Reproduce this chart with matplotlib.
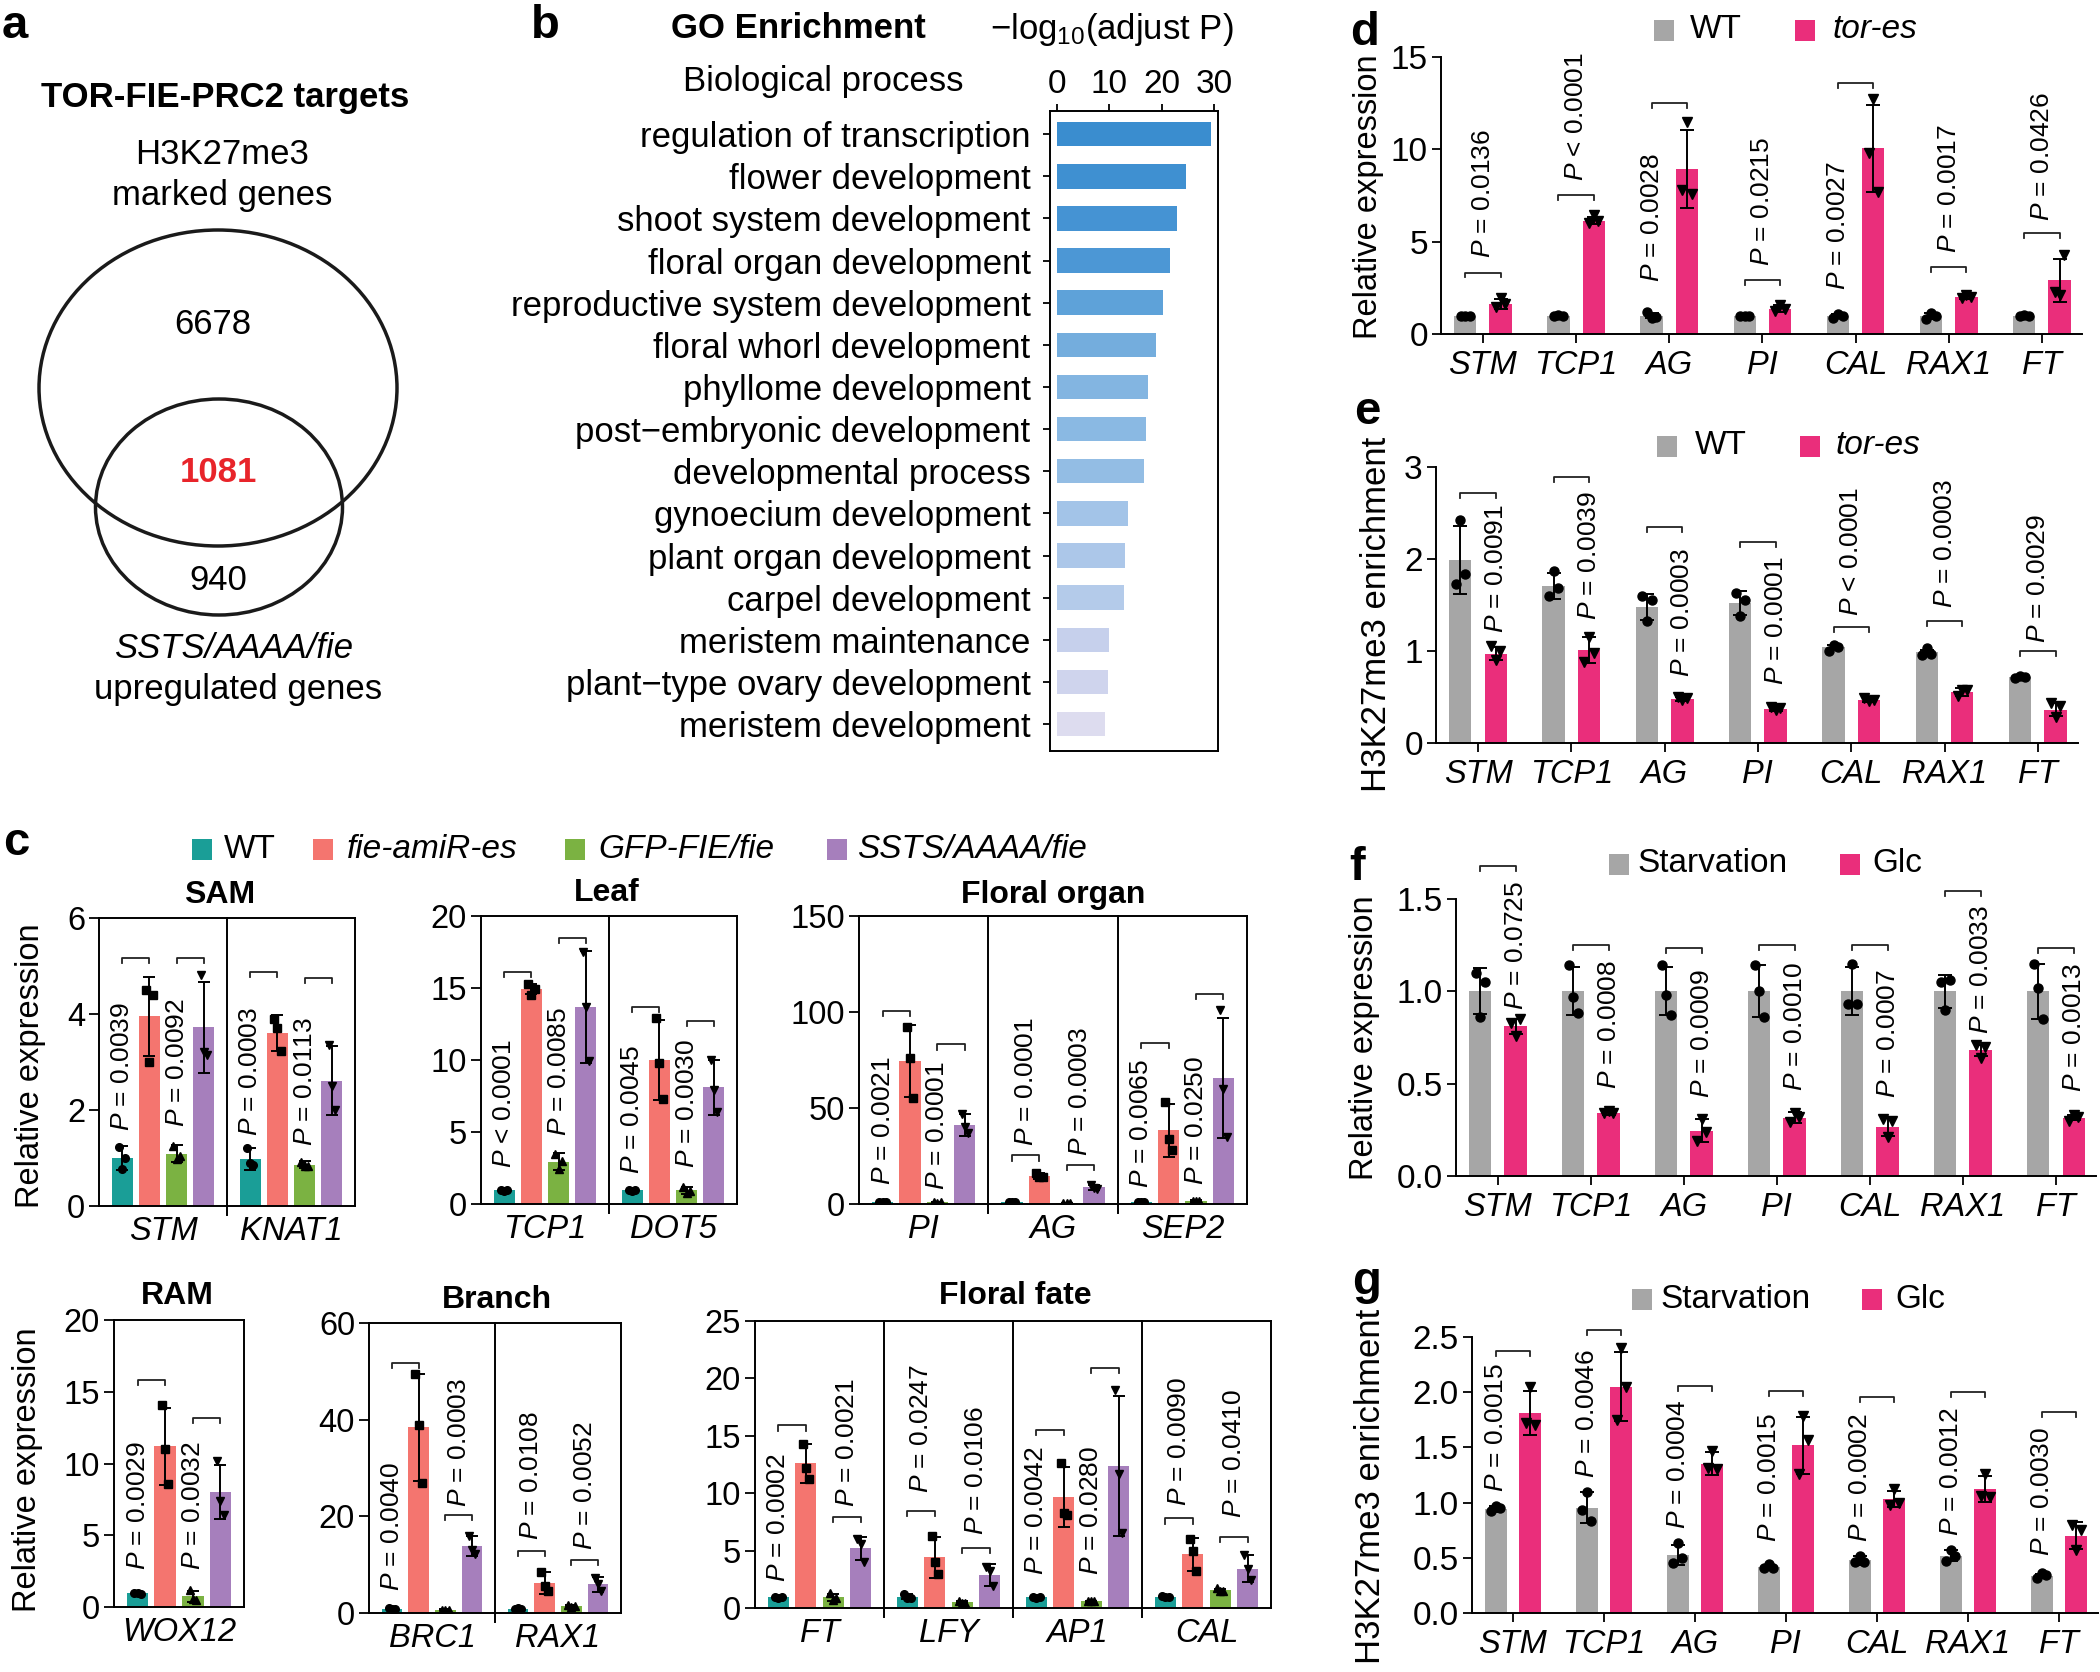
import numpy as np
import matplotlib
matplotlib.use('Agg')
import matplotlib.pyplot as plt
from matplotlib.patches import Ellipse, Rectangle

plt.rcParams.update({
    'font.family': ['Liberation Sans', 'DejaVu Sans'],
    'mathtext.fontset': 'custom',
    'mathtext.rm': 'Liberation Sans',
    'mathtext.it': 'Liberation Sans:italic',
    'mathtext.bf': 'Liberation Sans:bold',
    'axes.linewidth': 1.4,
})

# ---------------- data ----------------
venn_h3k27_only = 6678
venn_overlap = 1081
venn_up_only = 940

go_terms = ['regulation of transcription', 'flower development', 'shoot system development',
            'floral organ development', 'reproductive system development', 'floral whorl development',
            'phyllome development', 'post\u2212embryonic development', 'developmental process',
            'gynoecium development', 'plant organ development', 'carpel development',
            'meristem maintenance', 'plant\u2212type ovary development', 'meristem development']
go_values = [29.4, 24.6, 22.9, 21.6, 20.3, 19.0, 17.5, 17.0, 16.6, 13.5, 13.0, 12.9, 10.0, 9.7, 9.1]

c_groups = ['WT', 'fie-amiR-es', 'GFP-FIE/fie', 'SSTS/AAAA/fie']

sam_genes = ['STM', 'KNAT1']
sam_mean = [[1.0, 3.95, 1.09, 3.72], [0.98, 3.6, 0.86, 2.61]]
sam_sd = [[0.24, 0.83, 0.18, 0.95], [0.23, 0.38, 0.07, 0.72]]
sam_pts = [[[1.22, 0.78, 1.0], [4.5, 3.0, 4.4], [1.25, 0.98, 1.05], [4.82, 3.2, 3.15]],
           [[1.2, 0.9, 0.85], [3.9, 3.7, 3.22], [0.92, 0.84, 0.83], [3.35, 2.5, 2.0]]]
sam_ann = [(0, 0, 1, '= 0.0039', 5.17, 0, 1.57), (0, 2, 3, '= 0.0092', 5.17, 2, 1.64),
           (1, 0, 1, '= 0.0003', 4.87, 0, 1.46), (1, 2, 3, '= 0.0113', 4.75, 2, 1.25)]

leaf_genes = ['TCP1', 'DOT5']
leaf_mean = [[0.95, 14.9, 2.95, 13.7], [0.95, 10.0, 0.95, 8.1]]
leaf_sd = [[0.1, 0.35, 0.6, 3.9], [0.1, 2.8, 0.25, 1.9]]
leaf_pts = [[[1.0, 0.9, 0.95], [15.3, 14.5, 14.9], [3.5, 2.4, 3.0], [17.5, 13.7, 9.9]],
            [[1.0, 0.9, 0.95], [12.9, 9.8, 7.3], [1.2, 0.75, 0.9], [10.0, 7.9, 6.4]]]
leaf_ann = [(0, 0, 1, '< 0.0001', 16.1, 0, 2.5), (0, 2, 3, '= 0.0085', 18.5, 2, 4.7),
            (1, 0, 1, '= 0.0045', 13.7, 0, 2.1), (1, 2, 3, '= 0.0030', 12.7, 2, 2.5)]

organ_genes = ['PI', 'AG', 'SEP2']
organ_mean = [[1.0, 74.5, 0.8, 41.2], [1.0, 14.7, 0.5, 8.7], [1.0, 38.3, 1.5, 65.5]]
organ_sd = [[0.3, 18.8, 0.3, 5.9], [0.3, 1.5, 0.2, 1.2], [0.3, 13.8, 0.4, 31.3]]
organ_pts = [[[1.0, 0.8, 1.2], [92, 76, 55], [0.8, 0.6, 1.0], [47, 40, 37]],
             [[1.0, 1.0, 1.0], [16, 14, 14], [0.5, 0.5, 0.5], [9.8, 8.5, 7.9]],
             [[1.0, 1.0, 1.0], [53, 34, 28], [1.6, 1.5, 1.4], [101, 60, 35]]]
organ_ann = [(0, 0, 1, '= 0.0021', 100.5, 0, 10), (0, 2, 3, '= 0.0001', 83.1, 2, 7.5),
             (1, 0, 1, '= 0.0001', 25.3, 0.5, 30), (1, 2, 3, '= 0.0003', 20.4, 2.5, 24.8),
             (2, 0, 1, '= 0.0065', 83.7, 0, 8.3), (2, 2, 3, '= 0.0250', 109.6, 2, 10)]

ram_genes = ['WOX12']
ram_mean = [[0.95, 11.2, 0.74, 8.0]]
ram_sd = [[0.1, 2.7, 0.4, 1.9]]
ram_pts = [[[1.0, 0.95, 0.9], [14.1, 11.0, 8.6], [1.2, 0.55, 0.5], [10.2, 7.4, 6.4]]]
ram_ann = [(0, 0, 1, '= 0.0029', 15.8, 0, 2.6), (0, 2, 3, '= 0.0032', 13.2, 2, 2.6)]

branch_genes = ['BRC1', 'RAX1']
branch_mean = [[0.85, 38.4, 0.7, 13.8], [0.9, 6.2, 1.4, 5.9]]
branch_sd = [[0.2, 11.0, 0.15, 2.1], [0.15, 2.3, 0.25, 1.5]]
branch_pts = [[[1.0, 0.8, 0.75], [49.5, 39, 27], [0.7, 0.7, 0.7], [16, 13.1, 12.2]],
              [[0.9, 0.95, 0.85], [8.5, 5.5, 4.5], [1.6, 1.2, 1.4], [7.3, 6.0, 4.5]]]
branch_ann = [(0, 0, 1, '= 0.0040', 51.7, 0, 4.5), (0, 2, 3, '= 0.0003', 20.3, 2.5, 22),
              (1, 0, 1, '= 0.0108', 12.8, 0.5, 15.2), (1, 2, 3, '= 0.0052', 11.0, 2.5, 13.1)]

fate_genes = ['FT', 'LFY', 'AP1', 'CAL']
fate_mean = [[0.95, 12.6, 0.95, 5.2], [1.0, 4.4, 0.52, 2.85], [0.95, 9.67, 0.6, 12.4], [1.0, 4.67, 1.54, 3.43]]
fate_sd = [[0.1, 1.7, 0.3, 1.0], [0.2, 1.8, 0.1, 0.95], [0.1, 2.6, 0.05, 6.1], [0.1, 1.45, 0.15, 1.2]]
fate_pts = [[[1.0, 0.9, 1.0], [14.3, 12.2, 11.2], [1.3, 0.7, 0.9], [6.0, 5.6, 4.0]],
            [[1.2, 0.9, 0.85], [6.3, 4.0, 3.0], [0.65, 0.45, 0.45], [3.6, 3.2, 1.9]],
            [[1.0, 0.9, 0.95], [12.6, 8.3, 8.1], [0.6, 0.6, 0.6], [19.0, 11.7, 6.5]],
            [[1.05, 0.95, 1.0], [6.0, 5.0, 3.2], [1.7, 1.5, 1.45], [4.6, 3.4, 2.4]]]
fate_ann = [(0, 0, 1, '= 0.0002', 15.9, 0, 2.3), (0, 2, 3, '= 0.0021', 7.9, 2.5, 8.8),
            (1, 0, 1, '= 0.0247', 8.45, 0.5, 10.0), (1, 2, 3, '= 0.0106', 5.26, 2.5, 6.4),
            (2, 0, 1, '= 0.0042', 15.5, 0, 2.85), (2, 2, 3, '= 0.0280', 20.9, 2, 2.85),
            (3, 0, 1, '= 0.0090', 7.8, 0.5, 8.9), (3, 2, 3, '= 0.0410', 6.2, 2.5, 7.8)]

de_genes = ['STM', 'TCP1', 'AG', 'PI', 'CAL', 'RAX1', 'FT']

d_wt_mean = [1.0, 1.0, 1.0, 1.0, 0.97, 0.97, 1.0]
d_wt_sd = [0.05, 0.07, 0.15, 0.04, 0.12, 0.15, 0.08]
d_wt_pts = [[0.95, 1.0, 1.0], [0.95, 1.05, 0.95], [1.2, 0.85, 0.9], [1.0, 0.98, 1.0],
            [0.85, 1.1, 0.95], [0.8, 1.12, 0.98], [0.95, 1.05, 1.0]]
d_tor_mean = [1.64, 6.13, 8.94, 1.37, 10.05, 2.0, 2.9]
d_tor_sd = [0.28, 0.2, 2.1, 0.2, 2.35, 0.1, 1.15]
d_tor_pts = [[1.45, 1.95, 1.6], [6.0, 6.45, 6.1], [7.8, 11.5, 7.6], [1.25, 1.55, 1.35],
             [9.8, 12.7, 7.7], [1.95, 2.1, 2.0], [2.3, 2.1, 4.3]]
d_ann = [(0, 3.33, 0.5, 4.13, '= 0.0136'), (1, 7.52, 0.5, 8.3, '< 0.0001'),
         (2, 12.5, 0, 2.8, '= 0.0028'), (3, 2.9, 0.5, 3.7, '= 0.0215'),
         (4, 13.6, 0, 2.4, '= 0.0027'), (5, 3.63, 0.5, 4.4, '= 0.0017'),
         (6, 5.47, 0.5, 6.1, '= 0.0426')]

e_wt_mean = [1.99, 1.71, 1.48, 1.52, 1.04, 0.985, 0.72]
e_wt_sd = [0.37, 0.14, 0.14, 0.13, 0.02, 0.03, 0.015]
e_wt_pts = [[1.73, 2.42, 1.84], [1.6, 1.87, 1.68], [1.6, 1.33, 1.55], [1.63, 1.38, 1.55],
            [1.0, 1.06, 1.04], [0.96, 1.03, 0.97], [0.71, 0.73, 0.72]]
e_tor_mean = [0.97, 1.01, 0.48, 0.37, 0.47, 0.555, 0.36]
e_tor_sd = [0.07, 0.14, 0.02, 0.02, 0.02, 0.04, 0.07]
e_tor_pts = [[1.05, 0.9, 1.0], [0.88, 1.15, 0.98], [0.5, 0.47, 0.49], [0.39, 0.36, 0.38],
             [0.49, 0.46, 0.47], [0.51, 0.58, 0.58], [0.43, 0.28, 0.4]]
e_ann = [(0, 2.72, 1, 1.2, '= 0.0091'), (1, 2.89, 1, 1.34, '= 0.0039'),
         (2, 2.35, 1, 0.72, '= 0.0003'), (3, 2.18, 1, 0.63, '= 0.0001'),
         (4, 1.26, 0.5, 1.38, '< 0.0001'), (5, 1.33, 0.5, 1.47, '= 0.0003'),
         (6, 1.0, 0.5, 1.09, '= 0.0029')]

f_starv_mean = [1.0, 1.0, 1.0, 1.0, 1.0, 1.0, 1.0]
f_starv_sd = [0.125, 0.13, 0.13, 0.14, 0.13, 0.09, 0.15]
f_starv_pts = [[1.1, 0.86, 1.05], [1.14, 0.97, 0.88], [1.14, 0.98, 0.87], [1.14, 1.0, 0.86],
               [0.93, 1.15, 0.93], [1.05, 0.9, 1.06], [1.15, 1.02, 0.85]]
f_glc_mean = [0.81, 0.343, 0.246, 0.316, 0.264, 0.68, 0.316]
f_glc_sd = [0.04, 0.01, 0.06, 0.03, 0.05, 0.03, 0.015]
f_glc_pts = [[0.83, 0.76, 0.85], [0.34, 0.35, 0.34], [0.19, 0.31, 0.24], [0.29, 0.34, 0.32],
             [0.31, 0.21, 0.3], [0.71, 0.64, 0.7], [0.3, 0.33, 0.32]]
f_ann = [(0, 1.68, 1, 0.9, '= 0.0725'), (1, 1.25, 1, 0.47, '= 0.0008'),
         (2, 1.236, 1, 0.42, '= 0.0009'), (3, 1.25, 1, 0.46, '= 0.0010'),
         (4, 1.25, 1, 0.425, '= 0.0007'), (5, 1.545, 1, 0.77, '= 0.0033'),
         (6, 1.236, 1, 0.455, '= 0.0013')]

g_starv_mean = [0.943, 0.952, 0.527, 0.417, 0.476, 0.52, 0.336]
g_starv_sd = [0.03, 0.14, 0.09, 0.02, 0.04, 0.05, 0.02]
g_starv_pts = [[0.92, 0.97, 0.95], [0.93, 1.1, 0.83], [0.45, 0.63, 0.5], [0.41, 0.44, 0.41],
               [0.46, 0.52, 0.46], [0.47, 0.57, 0.52], [0.32, 0.36, 0.34]]
g_glc_mean = [1.81, 2.05, 1.354, 1.518, 1.033, 1.122, 0.7]
g_glc_sd = [0.2, 0.31, 0.1, 0.26, 0.07, 0.12, 0.12]
g_glc_pts = [[1.72, 2.05, 1.7], [1.75, 2.4, 2.05], [1.31, 1.47, 1.3], [1.26, 1.78, 1.57],
             [0.98, 1.12, 1.0], [1.06, 1.26, 1.05], [0.8, 0.57, 0.75]]
g_ann = [(0, 2.37, 0, 1.1, '= 0.0015'), (1, 2.56, 0, 1.22, '= 0.0046'),
         (2, 2.06, 0, 0.76, '= 0.0004'), (3, 2.01, 0, 0.64, '= 0.0015'),
         (4, 1.96, 0, 0.64, '= 0.0002'), (5, 2.0, 0, 0.7, '= 0.0012'),
         (6, 1.82, 0, 0.52, '= 0.0030')]

# ---------------- styles ----------------
go_colors = ['#3a8dcf', '#3f90d1', '#4593d3', '#4c97d5', '#5ea2d9', '#74addd', '#83b5e1',
             '#8ab9e3', '#93bde4', '#a3c4e8', '#acc7e9', '#b4cbea', '#c6d0ec', '#cfd4ed', '#dddcef']
C_COLORS = ['#1a9e97', '#f4756f', '#7bb242', '#a67fbc']
C_MARKERS = ['o', 's', '^', 'v']
GRAY = '#a6a6a6'
PINK = '#ea2e7b'
C_OFFS = np.array([-1.5, -0.5, 0.5, 1.5]) * 0.212
C_BW = 0.165
C_JIT = np.array([-0.025, 0.0, 0.025])
P_OFF = 0.19
P_BW = 0.24
P_JIT = np.array([-0.05, 0.0, 0.05])

W, H = 2100, 1672
fig = plt.figure(figsize=(W / 100, H / 100), dpi=100)

ov = fig.add_axes([0, 0, 1, 1])
ov.set_xlim(0, W)
ov.set_ylim(H, 0)
ov.axis('off')


def add_ax(x0, y0, x1, y1):
    a = fig.add_axes([x0 / W, 1 - y1 / H, (x1 - x0) / W, (y1 - y0) / H])
    a.set_facecolor('none')
    return a


def T(x, y, s, **kw):
    kw.setdefault('ha', 'center')
    kw.setdefault('va', 'center')
    ov.text(x, y, s, **kw)


def legend_item(xs, y, color, label, xt, italic=False, fs=24):
    ov.add_patch(Rectangle((xs, y - 10.5), 20, 21, facecolor=color, edgecolor='none'))
    T(xt, y, label, ha='left', fontsize=fs, style='italic' if italic else 'normal')


# ---------------- panel letters ----------------
for lab, x, y in [('a', 15, 26), ('b', 545, 26), ('c', 16, 843), ('d', 1365, 33),
                  ('e', 1367, 412), ('f', 1357, 868), ('g', 1367, 1282)]:
    T(x, y, lab, fontsize=34, fontweight='bold')

# ---------------- panel a ----------------
T(225, 98, 'TOR-FIE-PRC2 targets', fontsize=25, fontweight='bold')
T(222, 155, 'H3K27me3', fontsize=25)
T(222, 196, 'marked genes', fontsize=25)
ov.add_patch(Ellipse((218, 388), 358, 316, fill=False, lw=2.5, ec='#1a1a1a'))
ov.add_patch(Ellipse((219, 507), 247, 216, fill=False, lw=2.5, ec='#1a1a1a'))
T(213, 325, str(venn_h3k27_only), fontsize=25)
T(218, 473, str(venn_overlap), fontsize=25, fontweight='bold', color='#e8242a')
T(218, 581, str(venn_up_only), fontsize=25)
T(234, 648, 'SSTS/AAAA/fie', fontsize=25, style='italic')
T(238, 689, 'upregulated genes', fontsize=25)

# ---------------- panel b ----------------
axb = add_ax(1050, 111, 1218, 751)
yy = np.arange(len(go_terms))
axb.barh(yy, go_values, 0.58, color=go_colors, zorder=2)
axb.set_ylim(len(go_terms) - 0.36, -0.55)
axb.set_xlim(-1.34, 30.8)
axb.xaxis.tick_top()
axb.set_xticks([0, 10, 20, 30])
axb.set_yticks(yy)
axb.set_yticklabels(go_terms, fontsize=25)
axb.tick_params(axis='x', labelsize=24, length=5, width=1.3, pad=3)
axb.tick_params(axis='y', length=5, width=1.3, pad=9)
T(798, 29, 'GO Enrichment', fontsize=25, fontweight='bold')
T(1112, 29, r'$-$log$_{10}$(adjust P)', fontsize=25)
T(823, 81, 'Biological process', fontsize=25)


# ---------------- panel c ----------------
def draw_c(box, genes, means, sds, pts, ann, ymax, yticks, title, title_xy):
    ax = add_ax(*box)
    n = len(genes)
    for g in range(n):
        for k in range(4):
            x = g + C_OFFS[k]
            ax.bar(x, means[g][k], C_BW, color=C_COLORS[k], zorder=2, linewidth=0)
            ax.errorbar(x, means[g][k], yerr=sds[g][k], fmt='none', ecolor='black',
                        elinewidth=1.4, capsize=4, capthick=1.4, zorder=3)
            ax.plot(x + C_JIT, pts[g][k], ls='none', marker=C_MARKERS[k], ms=5.5,
                    color='black', zorder=4)
    for b in range(1, n):
        ax.axvline(b - 0.5, ymin=-0.03, ymax=1, color='black', lw=1.4, clip_on=False)
    ax.set_xlim(-0.5, n - 0.5)
    ax.set_ylim(0, ymax)
    ax.set_yticks(yticks)
    ax.set_xticks(range(n))
    ax.set_xticklabels(genes, fontstyle='italic', fontsize=23.5)
    ax.tick_params(axis='x', length=0, pad=7)
    ax.tick_params(axis='y', length=7, width=1.3, labelsize=23.5, pad=3)
    h = 0.018 * ymax
    for (g, i, j, lab, yb, slot, yt) in ann:
        xi = g + C_OFFS[i]
        xj = g + C_OFFS[j]
        ax.plot([xi, xi, xj, xj], [yb - h, yb, yb, yb - h], color='#222222', lw=1.3,
                clip_on=False, zorder=5)
        xt = g + np.interp(slot, [0, 1, 2, 3], C_OFFS)
        ax.text(xt, yt, r'$\mathit{P}$ ' + lab, rotation=90, ha='center', va='bottom',
                fontsize=19, zorder=6)
    T(title_xy[0], title_xy[1], title, fontsize=23, fontweight='bold')
    return ax


draw_c((99, 918, 355, 1206), sam_genes, sam_mean, sam_sd, sam_pts, sam_ann, 6, [0, 2, 4, 6],
       'SAM', (220, 895))
draw_c((481, 916, 737, 1204), leaf_genes, leaf_mean, leaf_sd, leaf_pts, leaf_ann, 20,
       [0, 5, 10, 15, 20], 'Leaf', (607, 893))
draw_c((859, 916, 1247, 1204), organ_genes, organ_mean, organ_sd, organ_pts, organ_ann, 150,
       [0, 50, 100, 150], 'Floral organ', (1053, 895))
draw_c((114, 1320, 244, 1607), ram_genes, ram_mean, ram_sd, ram_pts, ram_ann, 20,
       [0, 5, 10, 15, 20], 'RAM', (177, 1296))
draw_c((369, 1323, 621, 1613), branch_genes, branch_mean, branch_sd, branch_pts, branch_ann, 60,
       [0, 20, 40, 60], 'Branch', (497, 1300))
draw_c((755, 1321, 1271, 1608), fate_genes, fate_mean, fate_sd, fate_pts, fate_ann, 25,
       [0, 5, 10, 15, 20, 25], 'Floral fate', (1015, 1296))

T(31, 1066, 'Relative expression', fontsize=23.5, rotation=90)
T(28, 1470, 'Relative expression', fontsize=23.5, rotation=90)

legend_item(192, 849, C_COLORS[0], c_groups[0], 224)
legend_item(313, 849, C_COLORS[1], c_groups[1], 347, italic=True)
legend_item(565, 849, C_COLORS[2], c_groups[2], 598, italic=True)
legend_item(827, 849, C_COLORS[3], c_groups[3], 857, italic=True)


# ---------------- panels d-g ----------------
def draw_pair(box, m1, s1, p1, m2, s2, p2, ann, ymax, yticks, fmt):
    ax = add_ax(*box)
    n = len(de_genes)
    x = np.arange(n)
    ax.bar(x - P_OFF, m1, P_BW, color=GRAY, zorder=2, linewidth=0)
    ax.bar(x + P_OFF, m2, P_BW, color=PINK, zorder=2, linewidth=0)
    ax.errorbar(x - P_OFF, m1, yerr=s1, fmt='none', ecolor='black', elinewidth=1.4,
                capsize=5, capthick=1.4, zorder=3)
    ax.errorbar(x + P_OFF, m2, yerr=s2, fmt='none', ecolor='black', elinewidth=1.4,
                capsize=5, capthick=1.4, zorder=3)
    for g in range(n):
        ax.plot(x[g] - P_OFF + P_JIT, p1[g], ls='none', marker='o', ms=6.5, color='black', zorder=4)
        ax.plot(x[g] + P_OFF + P_JIT, p2[g], ls='none', marker='v', ms=7.5, color='black', zorder=4)
    ax.spines['top'].set_visible(False)
    ax.spines['right'].set_visible(False)
    ax.set_xlim(-0.45, n - 0.57)
    ax.set_ylim(0, ymax)
    ax.set_yticks(yticks)
    ax.set_yticklabels([fmt.format(v) for v in yticks])
    ax.set_xticks(x)
    ax.set_xticklabels(de_genes, fontstyle='italic', fontsize=23.5)
    ax.tick_params(axis='x', length=6.5, width=1.3, pad=5)
    ax.tick_params(axis='y', length=6.5, width=1.3, labelsize=24, pad=3)
    h = 0.018 * ymax
    for (g, yb, slot, yt, lab) in ann:
        xi = g - P_OFF
        xj = g + P_OFF
        ax.plot([xi, xi, xj, xj], [yb - h, yb, yb, yb - h], color='#222222', lw=1.3,
                clip_on=False, zorder=5)
        xt = xi + slot * (xj - xi)
        ax.text(xt, yt, r'$\mathit{P}$ ' + lab, rotation=90, ha='center', va='bottom',
                fontsize=19, zorder=6)
    return ax


draw_pair((1441, 57, 2082, 334), d_wt_mean, d_wt_sd, d_wt_pts, d_tor_mean, d_tor_sd, d_tor_pts,
          d_ann, 15, [0, 5, 10, 15], '{:g}')
draw_pair((1436, 467, 2078, 743), e_wt_mean, e_wt_sd, e_wt_pts, e_tor_mean, e_tor_sd, e_tor_pts,
          e_ann, 3, [0, 1, 2, 3], '{:g}')
draw_pair((1456, 899, 2096, 1176), f_starv_mean, f_starv_sd, f_starv_pts, f_glc_mean, f_glc_sd,
          f_glc_pts, f_ann, 1.5, [0, 0.5, 1.0, 1.5], '{:.1f}')
draw_pair((1472, 1337, 2098, 1613), g_starv_mean, g_starv_sd, g_starv_pts, g_glc_mean, g_glc_sd,
          g_glc_pts, g_ann, 2.5, [0, 0.5, 1.0, 1.5, 2.0, 2.5], '{:.1f}')

T(1368, 197, 'Relative expression', fontsize=23.5, rotation=90)
T(1376, 614, 'H3K27me3 enrichment', fontsize=25, rotation=90)
T(1365, 1038, 'Relative expression', fontsize=23.5, rotation=90)
T(1370, 1486, 'H3K27me3 enrichment', fontsize=25, rotation=90)

legend_item(1654, 30, GRAY, 'WT', 1690)
legend_item(1795, 30, PINK, 'tor-es', 1832, italic=True)
legend_item(1657, 446, GRAY, 'WT', 1695)
legend_item(1800, 446, PINK, 'tor-es', 1835, italic=True)
legend_item(1609, 864, GRAY, 'Starvation', 1637)
legend_item(1840, 864, PINK, 'Glc', 1872)
legend_item(1632, 1299, GRAY, 'Starvation', 1660)
legend_item(1862, 1299, PINK, 'Glc', 1895)

fig.savefig('out.png', dpi=100)
